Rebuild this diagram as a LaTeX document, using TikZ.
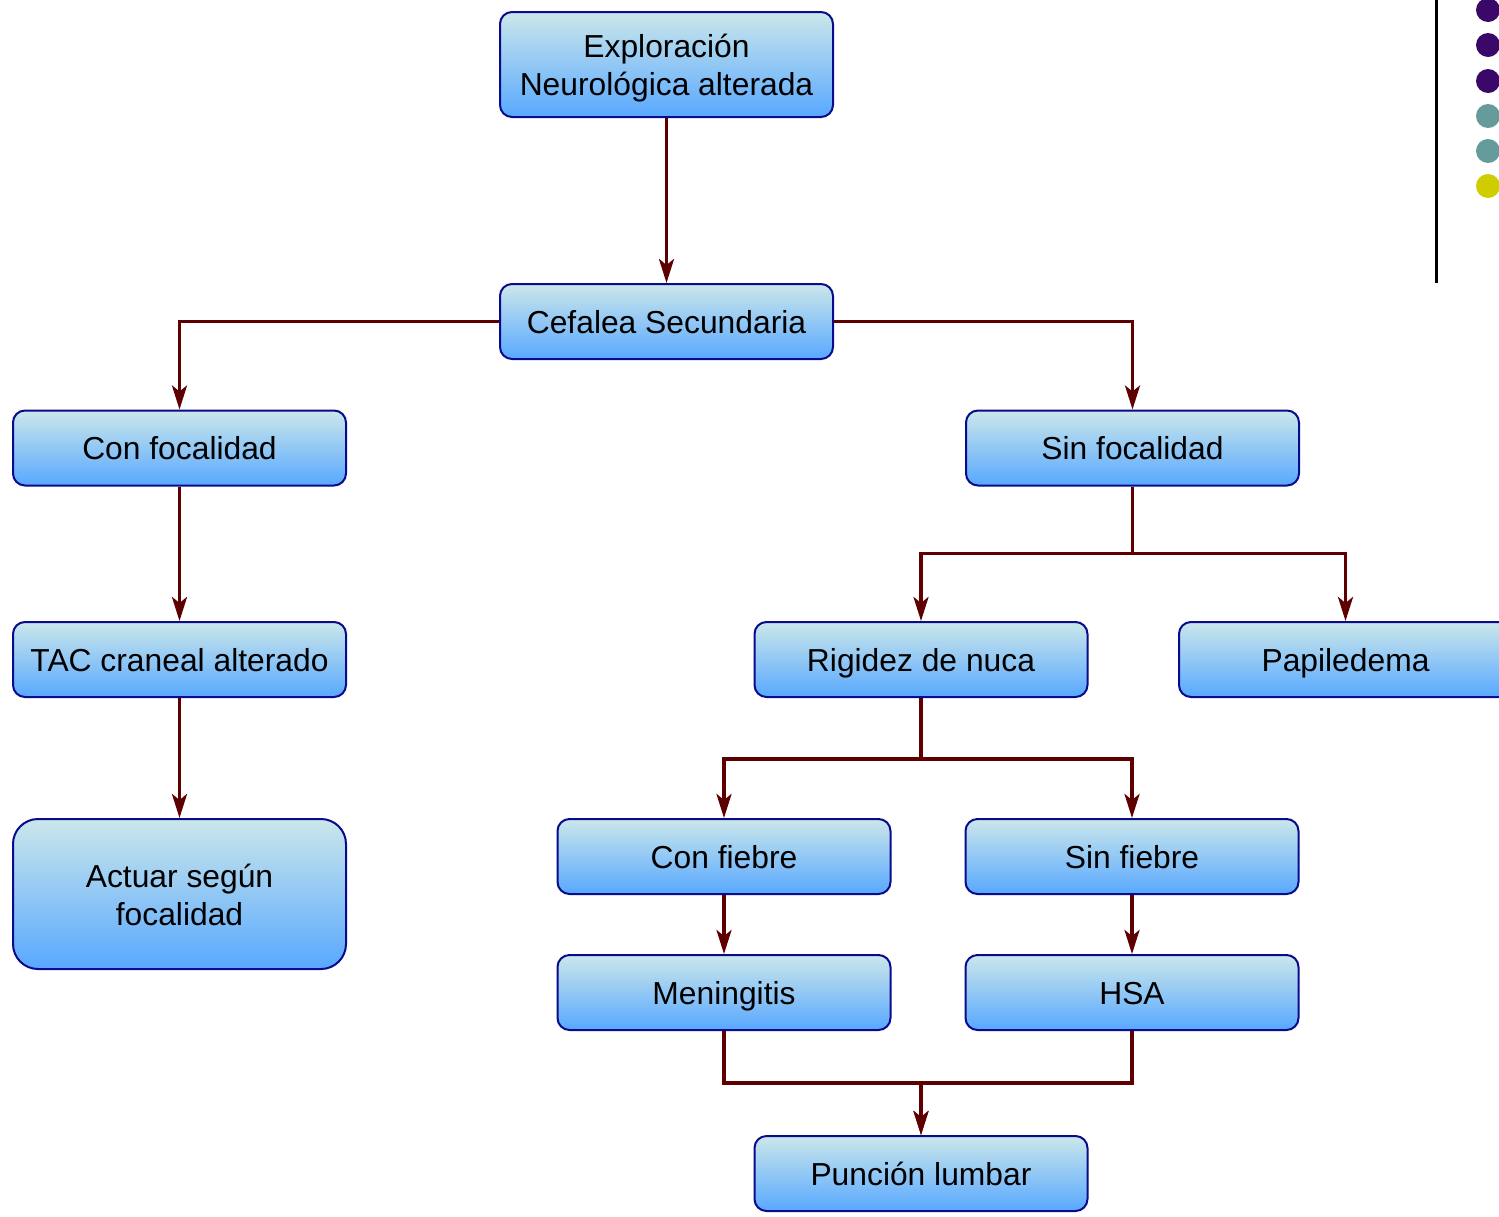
\documentclass[tikz,border=0pt]{standalone}
\usepackage{fontspec}
\setmainfont{Liberation Sans}
\usetikzlibrary{arrows.meta}
\definecolor{boxtop}{HTML}{CBE7EA}
\definecolor{boxbot}{HTML}{58A8FF}
\definecolor{boxline}{HTML}{0A0A8C}
\definecolor{linkred}{HTML}{5E0000}
\definecolor{dotpurple}{HTML}{3A0868}
\definecolor{dotteal}{HTML}{669B9B}
\definecolor{dotyellow}{HTML}{CFCC00}
\tikzset{
  stepbox/.style={draw=boxline, line width=2pt, rounded corners=12pt,
    top color=boxtop, bottom color=boxbot, minimum width=333pt,
    minimum height=75pt, inner sep=0pt, align=center,
    text height=25pt, text depth=2pt,
    font=\fontsize{31.8}{38}\selectfont},
  twoline/.style={text height=64pt, text depth=2pt},
  bigbox/.style={stepbox, twoline, rounded corners=25pt, minimum height=150pt},
  link/.style={draw=linkred, line width=3.5pt,
    -{Stealth[length=24pt,width=15pt,inset=6pt]}},
  dot/.style={circle, inner sep=0pt, minimum size=24pt}
}
\begin{document}
\begin{tikzpicture}[x=1pt,y=-1pt]
\useasboundingbox (0,0) rectangle (1499,1216);
\clip (0,0) rectangle (1499,1216);
\fill[white] (0,0) rectangle (1499,1216);

% side decoration
\draw[line width=3pt] (1436,0) -- (1436,283);
\node[dot, fill=dotpurple] (d1) at (1488,10) {};
\node[dot, fill=dotpurple] (d2) at (1488,45) {};
\node[dot, fill=dotpurple] (d3) at (1488,81) {};
\node[dot, fill=dotteal]   (d4) at (1488,116) {};
\node[dot, fill=dotteal]   (d5) at (1488,151) {};
\node[dot, fill=dotyellow] (d6) at (1488,186) {};

% boxes
\node[stepbox, twoline, minimum height=105pt] (exp) at (666.5,64.5) {Exploración\\Neurológica alterada};
\node[stepbox] (cef) at (666.5,321.5) {Cefalea Secundaria};
\node[stepbox] (conf) at (179.5,448) {Con focalidad};
\node[stepbox] (sinf) at (1132.5,448) {Sin focalidad};
\node[stepbox] (tac) at (179.5,659.5) {TAC craneal alterado};
\node[stepbox] (rig) at (921,659.5) {Rigidez de nuca};
\node[stepbox] (pap) at (1345.5,659.5) {Papiledema};
\node[bigbox] (act) at (179.5,894) {Actuar según\\focalidad};
\node[stepbox] (cfi) at (724,856.5) {Con fiebre};
\node[stepbox] (sfi) at (1132,856.5) {Sin fiebre};
\node[stepbox] (men) at (724,992.5) {Meningitis};
\node[stepbox] (hsa) at (1132,992.5) {HSA};
\node[stepbox] (pun) at (921,1173.5) {Punción lumbar};

% connectors
\draw[link] (exp.south) -- (cef.north);
\draw[link] (cef.west) -| (conf.north);
\draw[link] (cef.east) -| (sinf.north);
\draw[link] (conf.south) -- (tac.north);
\draw[link] (tac.south) -- (act.north);
\draw[link] (sinf.south) -- ++(0,67) -| (rig.north);
\draw[link] (sinf.south) -- ++(0,67) -| (pap.north);
\draw[link] (rig.south) -- ++(0,61) -| (cfi.north);
\draw[link] (rig.south) -- ++(0,61) -| (sfi.north);
\draw[link] (cfi.south) -- (men.north);
\draw[link] (sfi.south) -- (hsa.north);
\draw[link] (men.south) -- ++(0,52) -| (pun.north);
\draw[link] (hsa.south) -- ++(0,52) -| (pun.north);
\end{tikzpicture}
\end{document}
